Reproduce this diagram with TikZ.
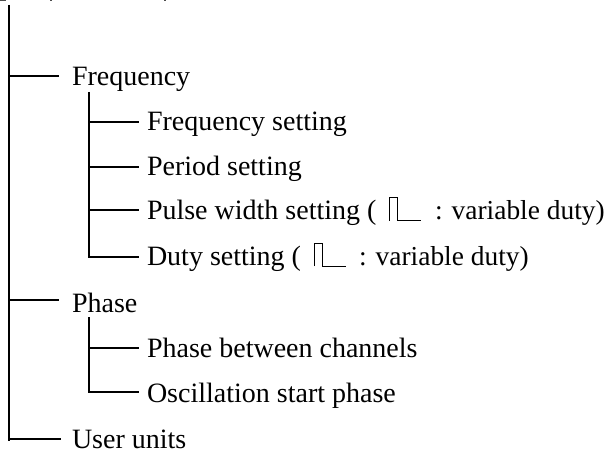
\documentclass[tikz,border=0pt]{standalone}
\usepackage{fontspec}
\setmainfont{Liberation Serif}
\begin{document}
\begin{tikzpicture}[x=1pt,y=-1pt,
  lbl/.style 2 args={anchor=west,inner sep=0pt,outer ysep=0pt,outer xsep=#2,text depth=6pt,text height={2*#1+6pt},font=\fontsize{28}{28}\selectfont},
  tail/.style={font=\fontsize{27.4}{28}\selectfont},
  link/.style={line width=1.1pt},
  trunk/.style={line width=1.1pt},
  pulse/.style={line width=1pt,line join=miter},
  crumb/.style={fill=black!70}]
\useasboundingbox (0,0) rectangle (607,454);
\fill[white] (0,0) rectangle (607,454);
\coordinate (m0) at (9,5);
\coordinate (m1) at (9,441);
\coordinate (s0) at (89,92);
\coordinate (s1) at (89,257.5);
\coordinate (p0) at (89,317);
\coordinate (p1) at (89,392.5);
\node[lbl={10pt}{13pt}] (freq) at (59,76) {Frequency};
\node[lbl={9pt}{8pt}] (fs) at (139,122) {Frequency setting};
\node[lbl={9pt}{8pt}] (ps) at (139,167) {Period setting};
\node[lbl={10pt}{8pt}] (pw) at (139,210) {Pulse width setting (};
\node[lbl={10pt}{0pt},tail] (pwb) at (435,210) {: variable duty)};
\node[lbl={8pt}{8pt}] (ds) at (139,257) {Duty setting (};
\node[lbl={8pt}{0pt},tail] (dsb) at (359,257) {: variable duty)};
\node[lbl={12pt}{13pt}] (ph) at (59,300) {Phase};
\node[lbl={9pt}{8pt}] (pc) at (139,348) {Phase between channels};
\node[lbl={10pt}{8pt}] (os) at (139,392) {Oscillation start phase};
\node[lbl={9pt}{11pt}] (uu) at (61,439) {User units};
\draw[trunk] (m0) -- (m1);
\draw[trunk] (s0) -- (s1);
\draw[trunk] (p0) -- (p1);
\foreach \n in {freq,ph,uu} \draw[link] (m0 |- \n.west) -- (\n.west);
\foreach \n in {fs,ps,pw,ds} \draw[link] (s0 |- \n.west) -- (\n.west);
\foreach \n in {pc,os} \draw[link] (p0 |- \n.west) -- (\n.west);
\draw[pulse] (389,221) -- (389,198) -- (397,198) -- (397,221) -- (421,221);
\draw[pulse] (314,266) -- (314,243) -- (322,243) -- (322,266) -- (346,266);
\fill[crumb] (0,0) rectangle (6,1.3);
\fill[crumb] (50,0) rectangle (52,0.8);
\fill[crumb] (164,0) rectangle (166,0.8);
\end{tikzpicture}
\end{document}
